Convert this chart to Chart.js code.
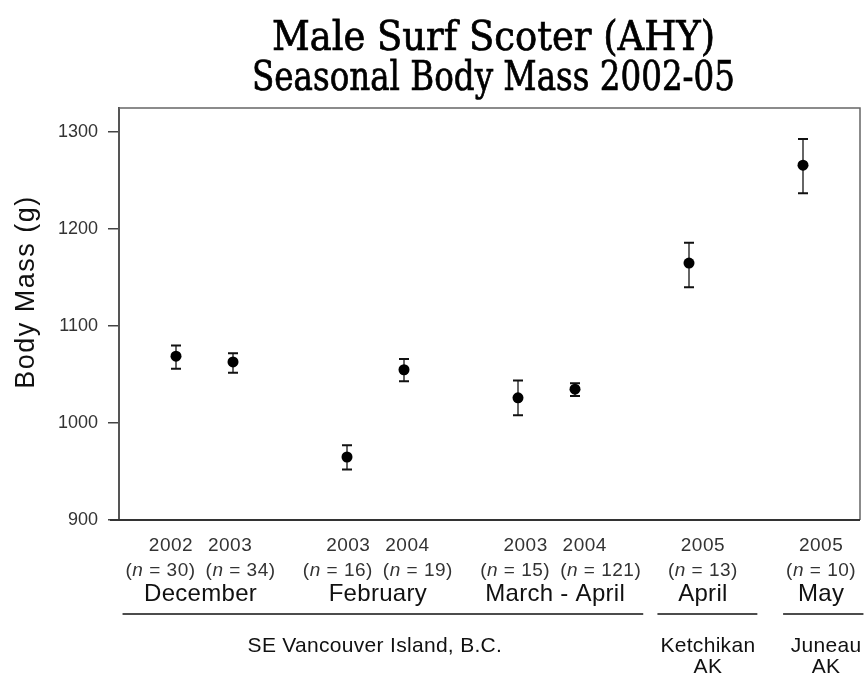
<!DOCTYPE html>
<html>
<head>
<meta charset="utf-8">
<script src="https://cdn.jsdelivr.net/npm/chart.js@4.4.1/dist/chart.umd.min.js"></script>
<style>
  html, body { margin: 0; padding: 0; background: #fff; }
  #wrap { width: 866px; height: 675px; position: relative; }
</style>
</head>
<body>
<div id="wrap"><canvas id="c"></canvas></div>
<script>
// ---- data ----
const categories = ['Dec 2002', 'Dec 2003', 'Feb 2003', 'Feb 2004', 'Mar-Apr 2003', 'Mar-Apr 2004', 'Apr 2005', 'May 2005'];
const xSlots = [0, 1, 3, 4, 6, 7, 9, 11];            // category slots along the axis (gaps between groups)
const years = ['2002', '2003', '2003', '2004', '2003', '2004', '2005', '2005'];
const sampleN = [30, 34, 16, 19, 15, 121, 13, 10];
const meanMass = [1069, 1063, 965, 1055, 1026, 1035, 1165, 1266];
const upperMass = [1080, 1072, 977, 1066, 1044, 1041, 1186, 1293];
const lowerMass = [1056, 1052, 952, 1043, 1008, 1028, 1140, 1237];
const monthLabels = ['December', 'February', 'March - April', 'April', 'May'];
const monthMembers = [[0, 1], [2, 3], [4, 5], [6], [7]];
const regionLabels = [['SE Vancouver Island, B.C.'], ['Ketchikan', 'AK'], ['Juneau', 'AK']];
const regionMembers = [[0, 1, 2, 3, 4, 5], [6], [7]];
const yTicks = [900, 1000, 1100, 1200, 1300];
const titleLines = ['Male Surf Scoter (AHY)', 'Seasonal Body Mass 2002-05'];
const yTitle = 'Body Mass (g)';

const points = meanMass.map((m, i) => ({ x: xSlots[i], y: m }));

const SANS = '"Liberation Sans", Arial, sans-serif';

const annot = {
  id: 'annot',
  beforeDatasetsDraw(chart) {
    const ctx = chart.ctx, xs = chart.scales.x, ys = chart.scales.y;
    ctx.save();
    for (let i = 0; i < meanMass.length; i++) {
      const px = xs.getPixelForValue(xSlots[i]);
      const yt = ys.getPixelForValue(upperMass[i]);
      const yb = ys.getPixelForValue(lowerMass[i]);
      ctx.strokeStyle = '#333';
      ctx.lineWidth = 1.5;
      ctx.beginPath(); ctx.moveTo(px, yt); ctx.lineTo(px, yb); ctx.stroke();
      ctx.strokeStyle = '#111';
      ctx.lineWidth = 2;
      ctx.beginPath();
      ctx.moveTo(px - 5, yt); ctx.lineTo(px + 5, yt);
      ctx.moveTo(px - 5, yb); ctx.lineTo(px + 5, yb);
      ctx.stroke();
    }
    ctx.restore();
  },
  afterDraw(chart) {
    const ctx = chart.ctx, xs = chart.scales.x, ca = chart.chartArea;
    ctx.save();
    // frame
    ctx.strokeStyle = '#666';
    ctx.lineWidth = 1.5;
    ctx.beginPath();
    ctx.moveTo(ca.left, ca.top); ctx.lineTo(ca.right, ca.top); ctx.lineTo(ca.right, ca.bottom);
    ctx.stroke();
    ctx.strokeStyle = '#333';
    ctx.lineWidth = 2;
    ctx.beginPath(); ctx.moveTo(ca.left - 9, ca.bottom); ctx.lineTo(ca.right, ca.bottom); ctx.stroke();

    // title
    ctx.save();
    ctx.fillStyle = '#000';
    ctx.strokeStyle = '#000';
    ctx.lineWidth = 0.7;
    ctx.textAlign = 'center';
    ctx.textBaseline = 'alphabetic';
    try { ctx.fontStretch = 'condensed'; } catch (e) {}
    ctx.font = '41px "DejaVu Serif Condensed", "DejaVu Serif", "Liberation Serif", serif';
    const tcx = (ca.left + ca.right) / 2 + 4;
    ctx.fillText(titleLines[0], tcx, 50, 445);
    ctx.strokeText(titleLines[0], tcx, 50, 445);
    ctx.fillText(titleLines[1], tcx, 90, 483);
    ctx.strokeText(titleLines[1], tcx, 90, 483);
    ctx.restore();

    // y title
    ctx.save();
    ctx.translate(27, (ca.top + ca.bottom) / 2 - 22);
    ctx.rotate(-Math.PI / 2);
    ctx.font = '27px ' + SANS;
    ctx.letterSpacing = '1.5px';
    ctx.textBaseline = 'middle';
    ctx.textAlign = 'center';
    ctx.fillStyle = '#111';
    ctx.fillText(yTitle, 0, 0);
    ctx.restore();

    // category labels (label layer is slightly wider-spread than the points)
    const labelX = (i) => xs.getPixelForValue(xSlots[i]) + (xSlots[i] * 2.1 - 5);
    const extents = [];
    ctx.letterSpacing = '0.5px';
    const drawN = (i, x, align) => {
      const partA = '(', partB = 'n', partC = ' = ' + sampleN[i] + ')';
      ctx.font = '19px ' + SANS;
      const wA = ctx.measureText(partA).width, wC = ctx.measureText(partC).width;
      ctx.font = 'italic 19px ' + SANS;
      const wB = ctx.measureText(partB).width;
      const total = wA + wB + wC;
      const x0 = align === 'right' ? x - total : (align === 'left' ? x : x - total / 2);
      ctx.textAlign = 'left';
      ctx.fillStyle = '#333';
      ctx.font = '19px ' + SANS; ctx.fillText(partA, x0, 576);
      ctx.font = 'italic 19px ' + SANS; ctx.fillText(partB, x0 + wA, 576);
      ctx.font = '19px ' + SANS; ctx.fillText(partC, x0 + wA + wB, 576);
      extents[i] = [x0, x0 + total];
    };
    for (let i = 0; i < years.length; i++) {
      ctx.fillStyle = '#333';
      ctx.textAlign = 'center';
      ctx.font = '19px ' + SANS;
      ctx.fillText(years[i], labelX(i), 551);
    }
    monthMembers.forEach(mem => {
      if (mem.length === 2) {
        const c = (labelX(mem[0]) + labelX(mem[1])) / 2;
        drawN(mem[0], c - 5, 'right');
        drawN(mem[1], c + 5, 'left');
      } else {
        drawN(mem[0], labelX(mem[0]), 'center');
      }
    });
    // months
    ctx.textAlign = 'center';
    ctx.fillStyle = '#111';
    ctx.font = '24px ' + SANS;
    ctx.letterSpacing = '0.3px';
    monthMembers.forEach((mem, g) => {
      const cx = mem.reduce((s, i) => s + labelX(i), 0) / mem.length;
      ctx.fillText(monthLabels[g], cx, 601);
      const w = ctx.measureText(monthLabels[g]).width;
      mem.forEach(i => { extents[i] = [Math.min(extents[i][0], cx - w / 2), Math.max(extents[i][1], cx + w / 2)]; });
    });
    // regions with underline
    ctx.font = '21px ' + SANS;
    regionMembers.forEach((mem, g) => {
      let l = Infinity, r = -Infinity;
      mem.forEach(i => { l = Math.min(l, extents[i][0]); r = Math.max(r, extents[i][1]); });
      const cx0 = mem.reduce((s, i) => s + labelX(i), 0) / mem.length + (mem.length === 1 ? 5 : 0);
      regionLabels[g].forEach(t => {
        const w = ctx.measureText(t).width;
        l = Math.min(l, cx0 - w / 2); r = Math.max(r, cx0 + w / 2);
      });
      l -= 3; r += 2;
      ctx.strokeStyle = '#111';
      ctx.lineWidth = 1.5;
      ctx.beginPath(); ctx.moveTo(l, 614); ctx.lineTo(r, 614); ctx.stroke();
      const cx = mem.length > 1 ? (l + r) / 2 - 8 : cx0;
      ctx.fillStyle = '#111';
      regionLabels[g].forEach((t, k) => ctx.fillText(t, cx, 652 + k * 21));
    });
    ctx.restore();
  }
};

new Chart(document.getElementById('c'), {
  type: 'scatter',
  data: {
    datasets: [{
      label: 'Body mass',
      data: points,
      pointRadius: 5.5,
      pointHoverRadius: 5.5,
      pointBackgroundColor: '#000',
      pointBorderColor: '#000',
      pointBorderWidth: 0,
      showLine: false
    }]
  },
  options: {
    responsive: true,
    maintainAspectRatio: false,
    animation: false,
    events: [],
    layout: { padding: { left: 0, right: 6, top: 108, bottom: 155 } },
    plugins: { legend: { display: false }, tooltip: { enabled: false }, title: { display: false } },
    scales: {
      x: {
        type: 'linear', min: -1, max: 12, display: false
      },
      y: {
        type: 'linear', min: 900, max: 1325,
        afterFit(s) { s.width = 119; },
        afterBuildTicks(s) { s.ticks = yTicks.map(v => ({ value: v })); },
        ticks: { color: '#333', font: { family: SANS, size: 18 }, padding: 10, callback: v => String(v) },
        grid: { drawOnChartArea: false, drawTicks: true, tickLength: 11, color: '#444', lineWidth: 1.5 },
        border: { display: true, color: '#555', width: 2 }
      }
    }
  },
  plugins: [annot]
});
</script>
</body>
</html>
